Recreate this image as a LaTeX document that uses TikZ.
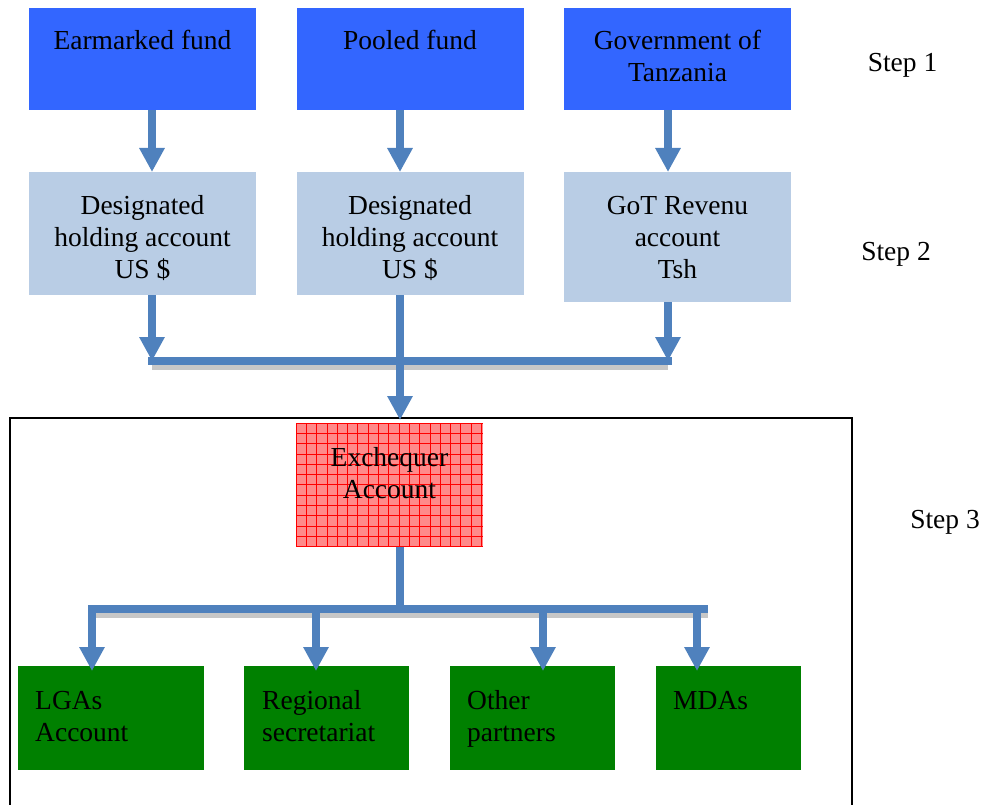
\documentclass[tikz,border=0pt]{standalone}
\usepackage{fontspec}
\setmainfont{Liberation Serif}
\usetikzlibrary{arrows.meta}
\definecolor{topblue}{HTML}{3366FF}
\definecolor{lightblue}{HTML}{B9CDE5}
\definecolor{arrowblue}{HTML}{4F81BD}
\definecolor{boxgreen}{HTML}{008000}
\definecolor{pinkfill}{HTML}{FF8A8A}
\begin{document}
\begin{tikzpicture}[x=1pt,y=-1pt,
  box/.style={rectangle, inner sep=0pt, outer sep=0pt, anchor=north west},
  topbox/.style={box, fill=topblue, minimum width=227pt, minimum height=102pt},
  midbox/.style={box, fill=lightblue, minimum width=227pt, minimum height=123pt},
  greenbox/.style={box, fill=boxgreen, minimum height=104pt},
  txt/.style={font=\fontsize{27.5}{32}\selectfont, inner sep=0pt, anchor=base, align=center},
  ltxt/.style={txt, anchor=base west, align=left},
  flow/.style={draw=arrowblue, line width=8pt, -{Triangle[width=24pt,length=24pt]}},
  barline/.style={draw=arrowblue, line width=8pt},
  shade/.style={draw=black!22, line width=5pt}]
\useasboundingbox (0,0) rectangle (982,805);

% frame of step 3
\draw[line width=2pt] (10,808) -- (10,418) -- (852,418) -- (852,808);

% step 1 boxes
\node[topbox] (e1) at (29,8) {};
\node[topbox] (p1) at (297,8) {};
\node[topbox] (g1) at (564,8) {};
\node[txt] (e1t) at (142.5,50) {Earmarked fund};
\node[txt] (p1t) at (410,50) {Pooled fund};
\node[txt] (g1t) at (677.5,82) {Government of\\Tanzania};

% step 2 boxes
\node[midbox] (e2) at (29,172) {};
\node[midbox] (p2) at (297,172) {};
\node[midbox, minimum height=130pt] (g2) at (564,172) {};
\node[txt] (e2t) at (142.5,278) {Designated\\holding account\\US \$};
\node[txt] (p2t) at (410,278) {Designated\\holding account\\US \$};
\node[txt] (g2t) at (677.5,278) {GoT Revenu\\account\\Tsh};

% exchequer
\node[box, fill=pinkfill, minimum width=187pt, minimum height=124pt] (ex) at (296,423) {};
\begin{scope}
  \clip (296,423) rectangle (483,547);
  \foreach \i in {0,...,18} {
    \draw[red, line width=0.7pt] (296+10.3*\i,423) -- (296+10.3*\i,547);
  }
  \foreach \i in {0,...,12} {
    \draw[red, line width=0.7pt] (296,423+10.3*\i) -- (483,423+10.3*\i);
  }
\end{scope}
\node[txt] (ext) at (389.5,498) {Exchequer\\Account};

% bottom boxes
\node[greenbox, minimum width=186pt] (lga) at (18,666) {};
\node[greenbox, minimum width=165pt] (reg) at (244,666) {};
\node[greenbox, minimum width=165pt] (oth) at (450,666) {};
\node[greenbox, minimum width=145pt] (mda) at (656,666) {};
\node[ltxt] (lgat) at (35,741) {LGAs\\Account};
\node[ltxt] (regt) at (262,741) {Regional\\secretariat};
\node[ltxt] (otht) at (467,741) {Other\\partners};
\node[ltxt] (mdat) at (673,709) {MDAs};

% step labels
\node[txt] (s1) at (902.5,72) {Step 1};
\node[txt] (s2) at (896,260) {Step 2};
\node[txt] (s3) at (945,528) {Step 3};

% columns and junctions
\coordinate (cA) at (152,0);
\coordinate (cB) at (400,0);
\coordinate (cC) at (668,0);
\coordinate (jA) at (152,361);
\coordinate (jC) at (668,361);
\coordinate (bL) at (148,361);
\coordinate (bR) at (672,361);
\coordinate (sL) at (152,367);
\coordinate (sR) at (668,367);

% step 1 -> step 2
\draw[flow] (e1.south -| cA) -- (e2.north -| cA);
\draw[flow] (p1.south -| cB) -- (p2.north -| cB);
\draw[flow] (g1.south -| cC) -- (g2.north -| cC);

% step 2 -> bar
\draw[shade] (sL) -- (sR);
\draw[barline] (bL) -- (bR);
\draw[flow] (e2.south -| cA) -- (jA);
\draw[flow] (g2.south -| cC) -- (jC);
\draw[flow, shorten >=3pt] (p2.south -| cB) -- (ex.north -| cB);

% exchequer -> bottom
\coordinate (dA) at (92,0);
\coordinate (dB) at (316,0);
\coordinate (dC) at (543,0);
\coordinate (dD) at (697,0);
\coordinate (kB) at (400,609);
\coordinate (kL) at (88,609);
\coordinate (kR) at (708,609);
\coordinate (tL) at (92,615);
\coordinate (tR) at (708,615);
\draw[shade] (tL) -- (tR);
\draw[barline] (ex.south -| cB) -- (kB);
\draw[barline] (kL) -- (kR);
\draw[flow, shorten >=-5pt] (kL -| dA) -- (lga.north -| dA);
\draw[flow, shorten >=-5pt] (kL -| dB) -- (reg.north -| dB);
\draw[flow, shorten >=-5pt] (kL -| dC) -- (oth.north -| dC);
\draw[flow, shorten >=-5pt] (kL -| dD) -- (mda.north -| dD);
\end{tikzpicture}
\end{document}
